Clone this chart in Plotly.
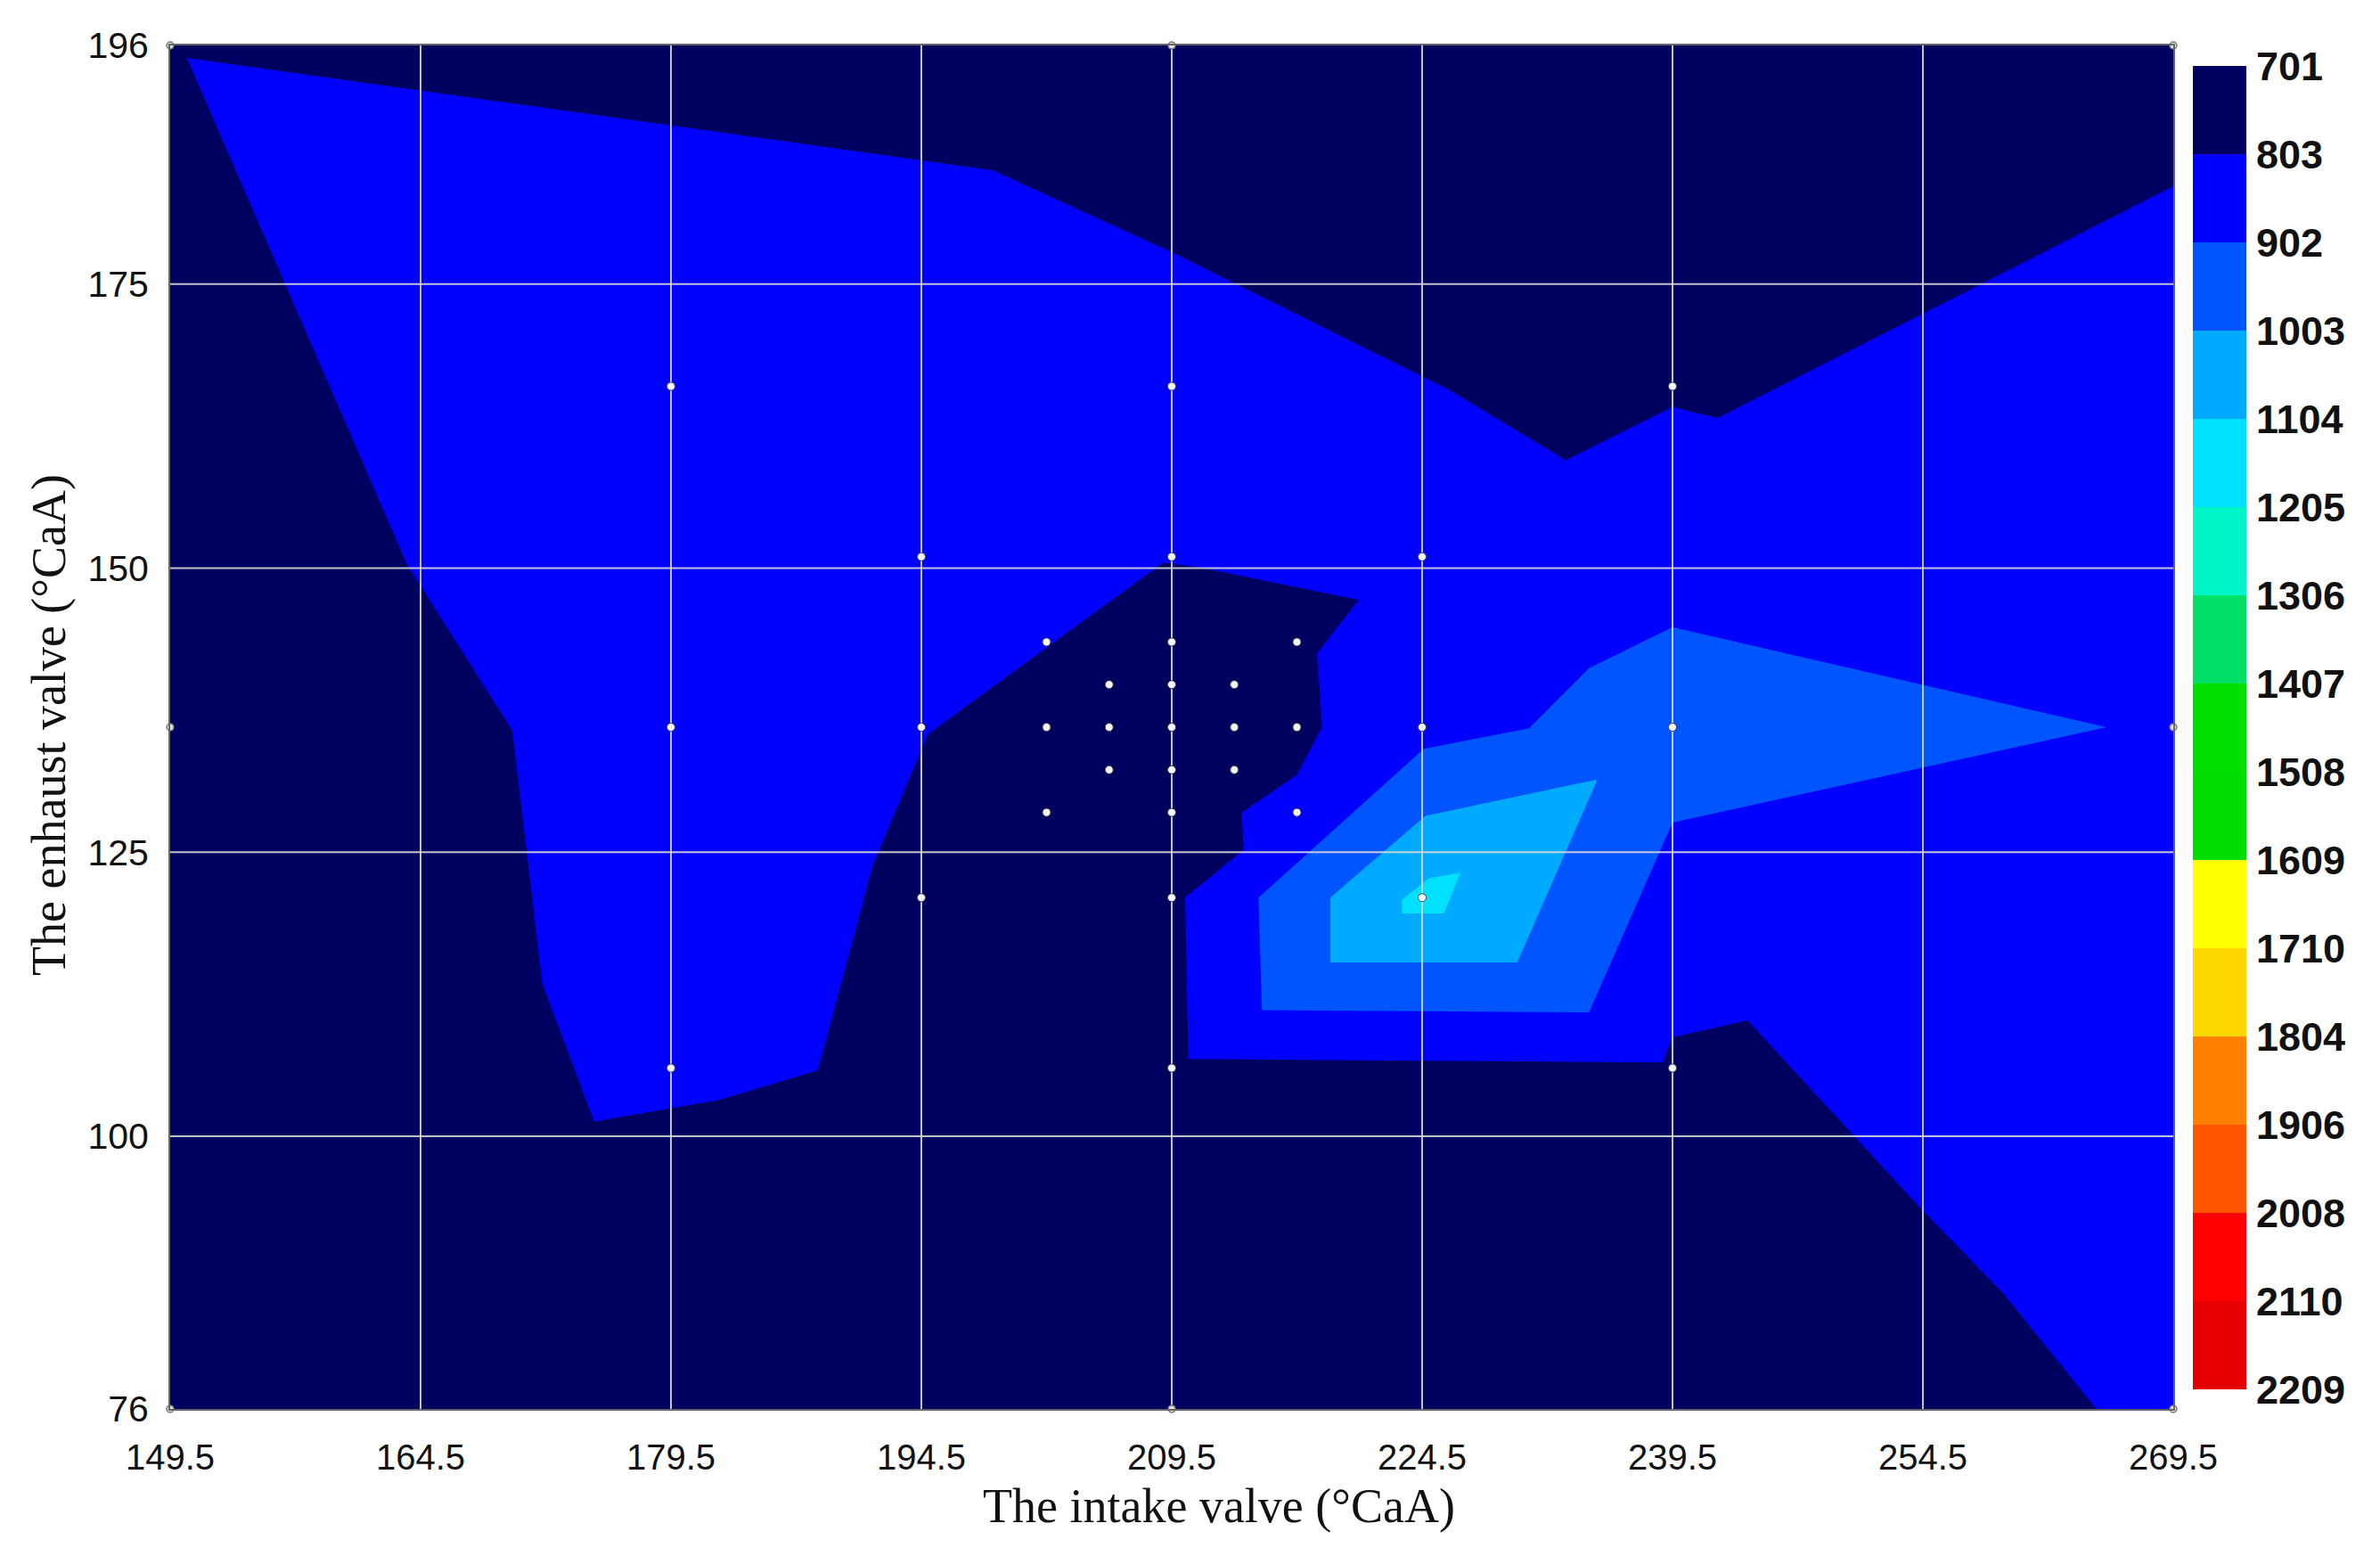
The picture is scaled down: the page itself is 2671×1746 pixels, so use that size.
import plotly.graph_objects as go

# ---------------- data ----------------
X_TICKS = [149.5, 164.5, 179.5, 194.5, 209.5, 224.5, 239.5, 254.5, 269.5]
Y_TICKS = [76, 100, 125, 150, 175, 196]

LEVELS = [701, 803, 902, 1003, 1104, 1205, 1306, 1407, 1508, 1609,
          1710, 1804, 1906, 2008, 2110, 2209]
LEVEL_COLORS = ["#000060", "#0000FF", "#0055FF", "#00AAFF", "#00E1FF",
                "#00F5C8", "#00E066", "#00E000", "#00DD00", "#FFFF00",
                "#FFD700", "#FF8000", "#FF5500", "#FF0000", "#E60000"]

# contour band 803-902
BAND_803_X = [150.5, 198.8, 209.5, 226.1, 233.1, 239.5, 242.2, 269.5, 269.5,
              264.9, 259.3, 254.4, 244.0, 239.5, 238.9, 210.5, 210.3, 213.8,
              213.7, 217.0, 218.5, 218.4, 218.2, 220.7, 211.4, 209.0, 194.9,
              191.6, 188.3, 182.4, 174.9, 171.8, 170.0, 163.7]
BAND_803_Y = [194.9, 185.0, 177.8, 165.7, 159.5, 164.2, 163.2, 183.6, 76.0,
              76.0, 86.2, 93.6, 110.2, 108.7, 106.5, 106.8, 121.0, 125.2,
              128.5, 131.8, 136.0, 138.5, 142.5, 147.2, 150.0, 150.5, 135.4,
              123.9, 105.8, 103.2, 101.3, 113.4, 135.7, 150.3]

# contour band 902-1003
BAND_902_X = [214.7, 224.6, 230.9, 234.5, 239.5, 265.5, 239.5, 234.5, 214.9]
BAND_902_Y = [121.0, 134.1, 135.9, 141.2, 144.8, 136.0, 127.6, 110.9, 111.1]

# contour band 1003-1104
BAND_1003_X = [219.0, 224.7, 235.0, 230.2, 219.0]
BAND_1003_Y = [121.0, 128.2, 131.4, 115.3, 115.3]

# contour band 1104-1205
BAND_1104_X = [223.3, 224.9, 226.8, 225.8, 223.3]
BAND_1104_Y = [120.8, 122.7, 123.2, 119.6, 119.6]

# design points
POINTS_X = [179.5, 209.5, 239.5,
            194.5, 209.5, 224.5,
            202.0, 209.5, 217.0,
            205.75, 209.5, 213.25,
            179.5, 194.5, 202.0, 205.75, 209.5, 213.25, 217.0, 224.5, 239.5,
            205.75, 209.5, 213.25,
            202.0, 209.5, 217.0,
            194.5, 209.5, 224.5,
            179.5, 209.5, 239.5]
POINTS_Y = [166, 166, 166,
            151, 151, 151,
            143.5, 143.5, 143.5,
            139.75, 139.75, 139.75,
            136, 136, 136, 136, 136, 136, 136, 136, 136,
            132.25, 132.25, 132.25,
            128.5, 128.5, 128.5,
            121, 121, 121,
            106, 106, 106]

FRAME_POINTS_X = [149.5, 209.5, 269.5, 149.5, 269.5, 149.5, 209.5, 269.5]
FRAME_POINTS_Y = [196, 196, 196, 136, 136, 76, 76, 76]

NAVY = LEVEL_COLORS[0]

# ---------------- figure ----------------
fig = go.Figure()

for xs, ys, col in [(BAND_803_X, BAND_803_Y, LEVEL_COLORS[1]),
                    (BAND_902_X, BAND_902_Y, LEVEL_COLORS[2]),
                    (BAND_1003_X, BAND_1003_Y, LEVEL_COLORS[3]),
                    (BAND_1104_X, BAND_1104_Y, LEVEL_COLORS[4])]:
    fig.add_trace(go.Scatter(x=xs, y=ys, mode="lines", fill="toself",
                             fillcolor=col, line=dict(width=0, color=col),
                             hoverinfo="skip", showlegend=False))

# grid lines on top of the filled bands
gx, gy = [], []
for v in X_TICKS[1:-1]:
    gx += [v, v, None]
    gy += [Y_TICKS[0], Y_TICKS[-1], None]
for v in Y_TICKS[1:-1]:
    gx += [X_TICKS[0], X_TICKS[-1], None]
    gy += [v, v, None]
fig.add_trace(go.Scatter(x=gx, y=gy, mode="lines",
                         line=dict(color="rgba(215,215,215,0.9)", width=2),
                         hoverinfo="skip", showlegend=False))

fig.add_trace(go.Scatter(x=POINTS_X, y=POINTS_Y, mode="markers",
                         marker=dict(size=9, color="#f6f6f6",
                                     line=dict(width=1, color="#444444")),
                         hoverinfo="skip", showlegend=False))
fig.add_trace(go.Scatter(x=FRAME_POINTS_X, y=FRAME_POINTS_Y, mode="markers",
                         marker=dict(size=8, color="#dddddd",
                                     line=dict(width=1.5, color="#777777")),
                         cliponaxis=False, hoverinfo="skip", showlegend=False))

# colour bar as a heatmap on its own axes
n_bands = len(LEVEL_COLORS)
cscale = []
for i, c in enumerate(LEVEL_COLORS):
    cscale.append([i / n_bands, c])
    cscale.append([(i + 1) / n_bands, c])
fig.add_trace(go.Heatmap(z=[[i] for i in range(n_bands)],
                         x=[0],
                         y=[i + 0.5 for i in range(n_bands)],
                         zmin=-0.5, zmax=n_bands - 0.5,
                         colorscale=cscale, showscale=False,
                         hoverinfo="skip", xaxis="x2", yaxis="y2"))

# page offsets (browser body margin of 8 px)
OFF = 8
W, H = 2671 - 2 * OFF, 1746 - 2 * OFF
plot_left, plot_right_main, plot_top, plot_bottom = 191, 2439, 51, 1581
cb_left, cb_right, cb_top, cb_bot = 2461, 2521, 74, 1559

L = plot_left - OFF
T = plot_top - OFF
R = W - (cb_right - OFF)
B = H - (plot_bottom - OFF)
plot_w = W - L - R
plot_h = H - T - B


def px(xpage):
    return (xpage - plot_left) / plot_w


def py(ypage):
    return (plot_bottom - ypage) / plot_h


fig.update_layout(
    width=W, height=H,
    margin=dict(l=L, r=R, t=T, b=B),
    paper_bgcolor="white",
    plot_bgcolor=NAVY,
    showlegend=False,
    xaxis=dict(domain=[0, px(plot_right_main)],
               range=[X_TICKS[0], X_TICKS[-1]],
               tickvals=X_TICKS, ticktext=[str(v) for v in X_TICKS],
               showgrid=False, zeroline=False,
               showline=True, mirror=True, linecolor="#666666", linewidth=2,
               ticks="", ticklabelstandoff=18,
               tickfont=dict(family="Liberation Sans", size=40, color="#111111")),
    yaxis=dict(domain=[0, 1],
               range=[Y_TICKS[0], Y_TICKS[-1]],
               tickvals=Y_TICKS, ticktext=[str(v) for v in Y_TICKS],
               showgrid=False, zeroline=False,
               showline=True, mirror=True, linecolor="#666666", linewidth=2,
               ticks="", ticklabelstandoff=14,
               tickfont=dict(family="Liberation Sans", size=41, color="#111111")),
    xaxis2=dict(domain=[px(cb_left), px(cb_right)],
                anchor="y2", range=[-0.5, 0.5],
                showticklabels=False, showgrid=False, zeroline=False,
                showline=False, ticks=""),
    yaxis2=dict(domain=[py(cb_bot), py(cb_top)],
                anchor="x2", side="right",
                range=[n_bands, 0],
                tickvals=list(range(len(LEVELS))),
                ticktext=[str(v) for v in LEVELS],
                showgrid=False, zeroline=False, showline=False, ticks="",
                ticklabelstandoff=10,
                tickfont=dict(family="Liberation Sans", size=45,
                              color="#111111", weight="bold")),
    annotations=[
        dict(text="The intake valve (°CaA)", xref="paper", yref="paper",
             x=px(1368), y=py(1690),
             xanchor="center", yanchor="middle", showarrow=False,
             font=dict(family="Liberation Serif", size=54, color="#111111")),
        dict(text="The enhaust valve (°CaA)", xref="paper", yref="paper",
             x=px(55), y=py(814),
             xanchor="center", yanchor="middle", textangle=-90,
             showarrow=False,
             font=dict(family="Liberation Serif", size=54, color="#111111")),
    ],
)

fig.write_html("out.html")
